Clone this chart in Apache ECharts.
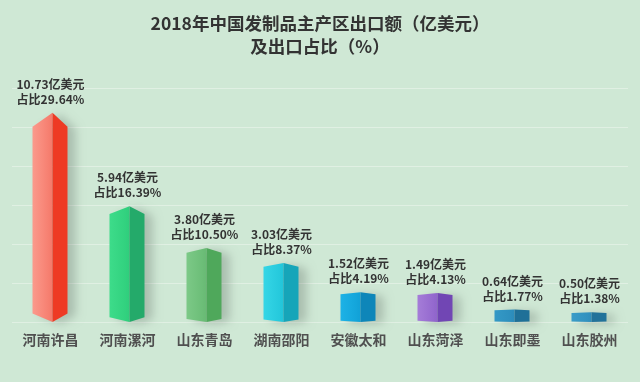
<!DOCTYPE html>
<html>
<head>
<meta charset="utf-8">
<script src="https://cdn.jsdelivr.net/npm/echarts@6/dist/echarts.min.js"></script>
<style>
html,body{margin:0;padding:0;background:#cfe8d5;}
#main{width:640px;height:382px;}
</style>
</head>
<body>
<div id="main"></div>
<script>
const categories = ['河南许昌','河南漯河','山东青岛','湖南邵阳','安徽太和','山东菏泽','山东即墨','山东胶州'];
const exportValues = [10.73, 5.94, 3.80, 3.03, 1.52, 1.49, 0.64, 0.50];
const shares = [29.64, 16.39, 10.50, 8.37, 4.19, 4.13, 1.77, 1.38];
const yTicks = [0, 2, 4, 6, 8, 10, 12];

const leftColors  = [['#fb9a8c','#f5796a'],['#3ddc8a','#2fcf7c'],['#7cc987','#68bb74'],['#35d6e6','#22c6da'],['#1db2e6','#11a2d8'],['#a57dd8','#9064cc'],['#3499c6','#2c8dbc'],['#3a9cc8','#2f8fbd']];
const rightColors = ['#ee3a24','#24aa6a','#4fa85b','#16a5b9','#0e86b9','#7146b4','#1f7098','#22729a'];

const chart = echarts.init(document.getElementById('main'), null, {renderer:'canvas'});
chart.setOption({
  backgroundColor: '#cfe8d5',
  animation: false,
  title: {
    text: '2018年中国发制品主产区出口额（亿美元）\n及出口占比（%）',
    left: 'center',
    top: 7,
    textStyle: {fontFamily:'Noto Sans CJK SC', fontSize:17.5, fontWeight:'bold', color:'#333', lineHeight:23}
  },
  grid: {left:12, right:12, top:88, bottom:60},
  xAxis: {
    type:'category',
    data: categories,
    axisLine:{show:false},
    axisTick:{show:false},
    axisLabel:{margin:11, fontFamily:'Noto Sans CJK SC', fontSize:14, fontWeight:'bold', color:'#505050'}
  },
  yAxis: {
    type:'value',
    min: yTicks[0], max: yTicks[yTicks.length-1], interval: yTicks[1]-yTicks[0],
    axisLine:{show:false}, axisTick:{show:false}, axisLabel:{show:false},
    splitLine:{lineStyle:{color:'rgba(255,255,255,0.35)', width:1}}
  },
  series: [
    {
      type:'custom',
      data: exportValues.map((v,i)=>[i,v]),
      renderItem: function(params, api){
        const i = api.value(0);
        const top = api.coord([i, api.value(1)]);
        const base = api.coord([i, 0]);
        const c = top[0];
        const x0 = c - 18, xm = c + 2, x1 = c + 17;
        const h = base[1] - top[1];
        const dT = Math.min(14, h * 0.067);
        const dB = dT * 0.6;
        const yt = top[1], yb = base[1];
        return {
          type:'group',
          children:[
            {type:'polygon', shape:{points:[[x0,yt+dT],[xm,yt],[xm,yb],[x0,yb-dB]]},
             style:{fill:new echarts.graphic.LinearGradient(0,0,1,0,[{offset:0,color:leftColors[i][0]},{offset:1,color:leftColors[i][1]}]),
                    shadowColor:'rgba(0,0,0,0.18)', shadowBlur:10, shadowOffsetX:8, shadowOffsetY:2}},
            {type:'polygon', shape:{points:[[xm,yt],[x1,yt+dT],[x1,yb-dB],[xm,yb]]},
             style:{fill:rightColors[i], shadowColor:'rgba(0,0,0,0.18)', shadowBlur:10, shadowOffsetX:8, shadowOffsetY:2}}
          ]
        };
      },
      z: 2
    },
    {
      type:'bar',
      data: exportValues,
      barWidth: 35,
      itemStyle:{color:'rgba(0,0,0,0)'},
      label:{
        show:true, position:'top', distance:6,
        fontFamily:'Noto Sans CJK SC', fontSize:12, fontWeight:'bold', color:'#333', lineHeight:15,
        formatter: p => exportValues[p.dataIndex].toFixed(2) + '亿美元\n占比' + shares[p.dataIndex].toFixed(2) + '%'
      },
      z: 3
    }
  ]
});
</script>
</body>
</html>
